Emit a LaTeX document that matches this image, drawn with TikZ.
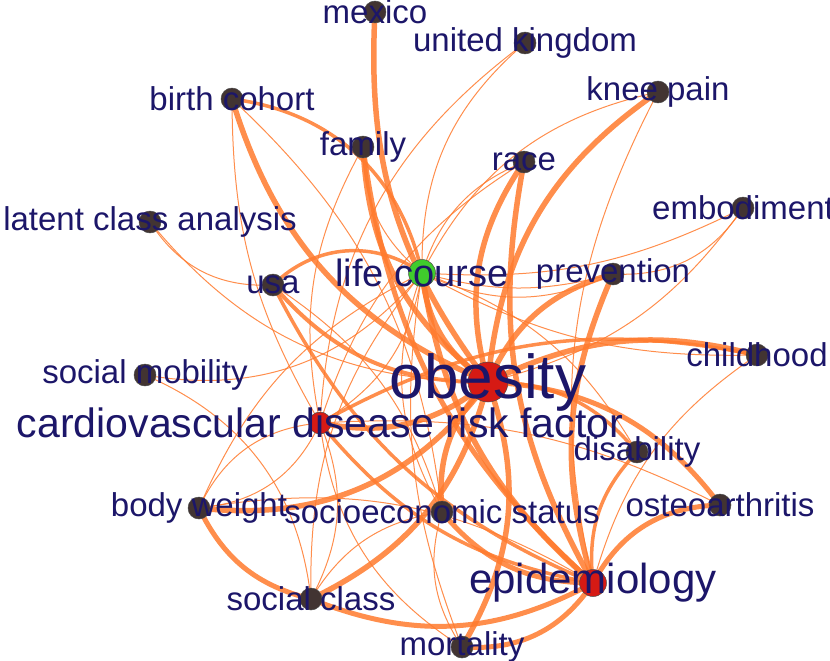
\documentclass[tikz,border=0pt]{standalone}
\usepackage{fontspec}
\setmainfont{Liberation Sans}
\usetikzlibrary{backgrounds}
\begin{document}
\begin{tikzpicture}[x=1pt, y=-1pt, line cap=round, line join=round]

  \definecolor{edgeor}{RGB}{255,122,45}
  \definecolor{lblblue}{RGB}{28,22,105}
  \definecolor{dotbrown}{RGB}{66,52,50}
  \definecolor{dotred}{RGB}{214,26,20}
  \definecolor{dotgreen}{RGB}{64,204,44}

  \useasboundingbox (0,0) rectangle (830,661);

  \tikzset{
    dot/.style={circle, draw=black!70, line width=0.5pt, fill=dotbrown,
      minimum size=22pt, inner sep=0pt},
    hub/.style={dot, fill=dotred},
    lbl/.style={text=lblblue, inner sep=0pt, font=\fontsize{33}{33}\selectfont},
    edge/.style={draw=edgeor, opacity=0.85}
  }

  % nodes
  \node[dot] (mex)   at (375,12)  {};
  \node[dot] (uk)    at (525,43)  {};
  \node[dot] (knee)  at (658,92)  {};
  \node[dot] (birth) at (232,99)  {};
  \node[dot] (fam)   at (363,147) {};
  \node[dot] (race)  at (524,162) {};
  \node[dot] (emb)   at (743,208) {};
  \node[dot] (lca)   at (150,222) {};
  \node[dot, fill=dotgreen, minimum size=27pt] (life) at (422,273) {};
  \node[dot] (usa)   at (273,285) {};
  \node[dot] (prev)  at (613,274) {};
  \node[dot] (child) at (757,355) {};
  \node[dot] (smob)  at (145,375) {};
  \node[hub, minimum size=40pt] (obes) at (488,382) {};
  \node[hub, minimum size=22pt] (cvd)  at (320,423) {};
  \node[dot] (dis)   at (637,452) {};
  \node[dot] (bw)    at (199,508) {};
  \node[dot] (ses)   at (442,512) {};
  \node[dot] (oa)    at (720,505) {};
  \node[hub, minimum size=27pt] (epi)  at (593,583) {};
  \node[dot] (scl)   at (311,599) {};
  \node[dot] (mort)  at (462,647) {};

  % edges, behind the nodes
  \begin{scope}[on background layer]
  \foreach \a/\b/\w/\bnd in {
      obes/mex/5.5/20, obes/fam/5.5/25, epi/fam/5/20, obes/birth/5.5/25,
      birth/life/3.5/35, obes/race/5.5/25, epi/race/5.5/20, obes/knee/5.5/25,
      obes/prev/5.5/25, epi/prev/5.5/20, obes/child/5.5/20, cvd/child/3.5/20,
      obes/oa/5/25, epi/oa/5/30, epi/dis/3.5/25, obes/dis/3.5/25,
      epi/ses/5/25, ses/obes/5.5/25, obes/bw/5.5/30, obes/scl/5.5/25,
      epi/scl/5/25, scl/bw/5/25, epi/mort/5/30, obes/mort/5.5/25,
      usa/life/3.5/40, obes/usa/4/25, epi/life/5.5/20, obes/life/5.5/25,
      obes/cvd/5.5/25, epi/cvd/3.5/20, epi/usa/3.5/20,
      cvd/birth/1/15, epi/knee/1/20, life/knee/1/25, prev/life/1/15,
      prev/life/1/25, child/life/1/15, epi/child/1/20, cvd/oa/1/15,
      usa/lca/1/30, obes/lca/1/25, life/smob/1/30, smob/scl/1/30,
      cvd/uk/1/25, life/uk/1/25, emb/life/1/15, emb/prev/1/30,
      life/fam/1/25, cvd/fam/1/20, life/race/1/25, cvd/race/1/20,
      life/cvd/1/25, bw/life/1/20, cvd/bw/1/30, bw/cvd/1/30,
      scl/life/1/20, ses/life/1/25, mort/life/1/15, cvd/scl/1/25,
      scl/ses/1/25, mort/ses/1/25, mort/cvd/1/25, life/dis/1/20,
      bw/epi/1/20, usa/ses/1/20, birth/ses/1/20, emb/obes/1/20}
    \draw[edge, line width=\w pt] (\a.center) to[bend left=\bnd] (\b.center);
  \end{scope}

  % labels
  \node[lbl] (mex-t)   at (mex)   {mexico};
  \node[lbl] (uk-t)    at (uk)    {united kingdom};
  \node[lbl] (knee-t)  at (knee)  {knee pain};
  \node[lbl] (birth-t) at (birth) {birth cohort};
  \node[lbl] (fam-t)   at (fam)   {family};
  \node[lbl] (race-t)  at (race)  {race};
  \node[lbl] (emb-t)   at (emb)   {embodiment};
  \node[lbl] (lca-t)   at (lca)   {latent class analysis};
  \node[lbl, font=\fontsize{38}{38}\selectfont] (life-t) at (life) {life course};
  \node[lbl] (usa-t)   at (usa)   {usa};
  \node[lbl] (prev-t)  at (prev)  {prevention};
  \node[lbl] (child-t) at (child) {childhood};
  \node[lbl] (smob-t)  at (smob)  {social mobility};
  \node[lbl, font=\fontsize{62}{62}\selectfont] (obes-t) at (obes) {obesity};
  \node[lbl, font=\fontsize{41}{41}\selectfont] (cvd-t) at (cvd) {cardiovascular disease risk factor};
  \node[lbl] (dis-t)   at (dis)   {disability};
  \node[lbl] (bw-t)    at (bw)    {body weight};
  \node[lbl] (ses-t)   at (ses)   {socioeconomic status};
  \node[lbl] (oa-t)    at (oa)    {osteoarthritis};
  \node[lbl, font=\fontsize{42}{42}\selectfont] (epi-t) at (epi) {epidemiology};
  \node[lbl] (scl-t)   at (scl)   {social class};
  \node[lbl] (mort-t)  at (mort)  {mortality};

\end{tikzpicture}
\end{document}
